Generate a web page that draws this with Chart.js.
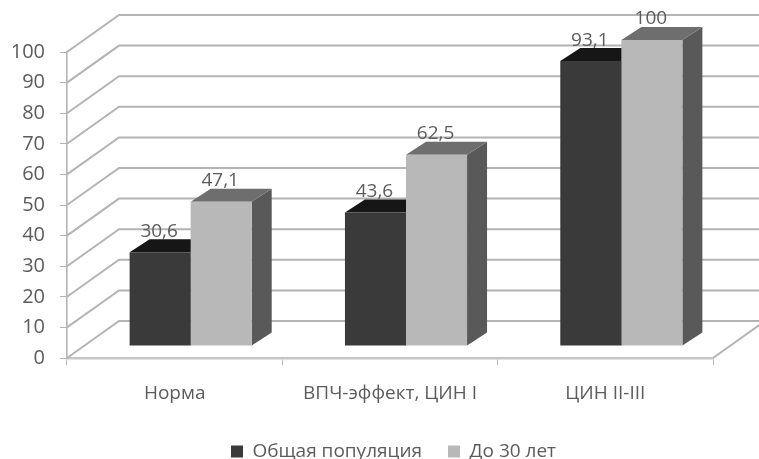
<!DOCTYPE html>
<html>
<head>
<meta charset="utf-8">
<style>
  html, body { margin: 0; padding: 0; background: #fff; }
  #box { width: 759px; height: 459px; overflow: hidden; }
  canvas { filter: blur(0.6px); }
</style>
<script src="https://cdn.jsdelivr.net/npm/chart.js@4"></script>
</head>
<body>
<div id="box"><canvas id="chart" width="759" height="459"></canvas></div>
<script>
  const categories = ['Норма', 'ВПЧ-эффект, ЦИН I', 'ЦИН II-III'];
  const seriesNames = ['Общая популяция', 'До 30 лет'];
  const generalValues = [30.6, 43.6, 93.1];
  const under30Values = [47.1, 62.5, 100];
  const yTicks = [0, 10, 20, 30, 40, 50, 60, 70, 80, 90, 100];

  const FONT = '"Open Sans", sans-serif';
  const TEXT = '#5c5c5c';
  const GRID = '#b4b4b4';
  // projection of the fake 3D box
  const WALL = { dx: 52, dy: -37 };   // front axis -> back wall
  const BAR = { dx: 16, dy: -12 };    // front axis -> front face of the bars
  const DEPTH = { dx: 20, dy: -13 };  // bar thickness
  const FACES = [
    { top: '#161616', side: '#2c2c2c' },
    { top: '#6e6e6e', side: '#595959' }
  ];

  function poly(ctx, pts, fill) {
    ctx.beginPath();
    pts.forEach((p, i) => i ? ctx.lineTo(p[0], p[1]) : ctx.moveTo(p[0], p[1]));
    ctx.closePath();
    ctx.fillStyle = fill;
    ctx.fill();
  }

  const box3d = {
    id: 'box3d',
    afterLayout(chart) {
      // legend sits right of the canvas centre in the original
      const lg = chart.legend;
      lg.left += 32;
      lg.right += 32;
    },
    beforeDatasetsDraw(chart) {
      const { ctx, scales: { x, y } } = chart;
      ctx.save();
      // walls
      ctx.strokeStyle = GRID;
      ctx.lineWidth = 2;
      yTicks.forEach(v => {
        const py = y.getPixelForValue(v);
        ctx.beginPath();
        ctx.moveTo(x.left, py);
        ctx.lineTo(x.left + WALL.dx, py + WALL.dy);
        ctx.lineTo(chart.width, py + WALL.dy);
        ctx.stroke();
      });
      // right edge of the floor
      const py0 = y.getPixelForValue(0);
      ctx.beginPath();
      ctx.moveTo(x.right, py0);
      ctx.lineTo(x.right + WALL.dx, py0 + WALL.dy);
      ctx.stroke();

      // top and side faces go under the library's front faces
      ctx.translate(BAR.dx, BAR.dy);
      chart.data.datasets.forEach((ds, i) => {
        chart.getDatasetMeta(i).data.forEach(b => {
          const l = b.x - b.width / 2, r = b.x + b.width / 2;
          poly(ctx, [[r, b.y], [r + DEPTH.dx, b.y + DEPTH.dy], [r + DEPTH.dx, b.base + DEPTH.dy], [r, b.base]], FACES[i].side);
          poly(ctx, [[l, b.y], [l + DEPTH.dx, b.y + DEPTH.dy], [r + DEPTH.dx, b.y + DEPTH.dy], [r, b.y]], FACES[i].top);
        });
      });
      ctx.restore();
      ctx.save();
      ctx.translate(BAR.dx, BAR.dy);
    },
    afterDatasetsDraw(chart) {
      const { ctx } = chart;
      ctx.restore();
      ctx.save();
      ctx.font = '19px ' + FONT;
      ctx.fillStyle = TEXT;
      ctx.textAlign = 'center';
      ctx.textBaseline = 'middle';
      chart.data.datasets.forEach((ds, i) => {
        chart.getDatasetMeta(i).data.forEach((b, j) => {
          const label = String(ds.data[j]).replace('.', ',');
          ctx.fillText(label, b.x + BAR.dx - 1, b.y + BAR.dy - 21);
        });
      });
      ctx.restore();
    }
  };

  new Chart(document.getElementById('chart'), {
    type: 'bar',
    data: {
      labels: categories,
      datasets: [
        { label: seriesNames[0], data: generalValues, backgroundColor: '#3a3a3a', clip: false, categoryPercentage: 0.567, barPercentage: 1 },
        { label: seriesNames[1], data: under30Values, backgroundColor: '#b8b8b8', clip: false, categoryPercentage: 0.567, barPercentage: 1 }
      ]
    },
    options: {
      responsive: false,
      animation: false,
      layout: { padding: { left: 10, right: 46, top: 52, bottom: -12 } },
      plugins: {
        tooltip: { enabled: false },
        legend: {
          position: 'bottom',
          labels: { font: { family: FONT, size: 19 }, color: TEXT, boxWidth: 12, boxHeight: 12, padding: 26 }
        }
      },
      scales: {
        x: {
          afterFit(scale) { scale.height = 58; },
          grid: { drawOnChartArea: false, tickLength: 7, color: GRID, offset: true },
          border: { color: '#c6c6c6', width: 2.5 },
          ticks: { font: { family: FONT, size: 19 }, color: TEXT, padding: 17, maxRotation: 0 }
        },
        y: {
          min: 0, max: 100,
          afterFit(scale) { scale.width = 57; },
          grid: { drawOnChartArea: false, tickLength: 7, color: GRID },
          border: { color: GRID, width: 1.6 },
          ticks: { stepSize: 10, font: { family: FONT, size: 20 }, color: TEXT, padding: 15 }
        }
      }
    },
    plugins: [box3d]
  });
</script>
</body>
</html>
